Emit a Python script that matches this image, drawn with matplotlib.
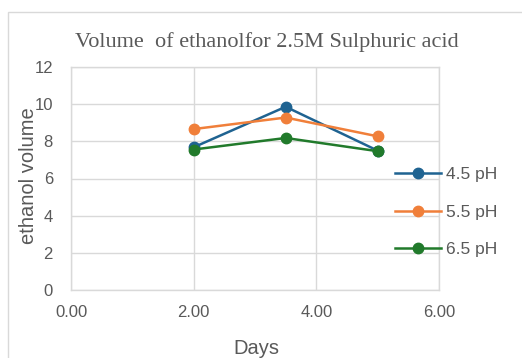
import matplotlib
matplotlib.use("Agg")
import matplotlib.pyplot as plt
from matplotlib.patches import Rectangle

days = [2.0, 3.5, 5.0]
ph45 = [7.68, 9.86, 7.50]
ph55 = [8.66, 9.28, 8.27]
ph65 = [7.56, 8.18, 7.47]
labels = ["4.5 pH", "5.5 pH", "6.5 pH"]
colors = ["#1F6391", "#F07F3A", "#217A2B"]
xticks = [0, 2, 4, 6]
yticks = [0, 2, 4, 6, 8, 10, 12]

W, H = 522, 358
fig = plt.figure(figsize=(W/100, H/100), dpi=100)
fig.patch.set_facecolor("white")
# chart border
fig.patches.append(Rectangle((8/W, -0.1), 1.2, 1 - 12/H + 0.1, transform=fig.transFigure,
                             fill=False, edgecolor="#D9D9D9", linewidth=1.0))

ax = fig.add_axes([71/W, 1 - 290/H, (439-71)/W, (290-67)/H])
for s, c, lab in zip([ph45, ph55, ph65], colors, labels):
    ax.plot(days, s, color=c, linewidth=1.8, marker="o", markersize=7.5, label=lab)

ax.set_xlim(0, 6)
ax.set_ylim(0, 12)
ax.set_xticks(xticks)
ax.set_xticklabels([f"{v:.2f}" for v in xticks])
ax.set_yticks(yticks)
ax.grid(True, color="#D9D9D9", linewidth=1.0)
ax.set_axisbelow(True)
for sp in ax.spines.values():
    sp.set_color("#D9D9D9")
    sp.set_linewidth(1.0)
ax.tick_params(length=0, colors="#595959", labelsize=12)
ax.tick_params(axis="x", pad=11)
ax.tick_params(axis="y", pad=13)
for t in ax.get_xticklabels() + ax.get_yticklabels():
    t.set_fontfamily("Liberation Sans")

ax.set_xlabel("Days", fontsize=14.5, color="#595959", family="Liberation Sans", va="center")
ax.xaxis.set_label_coords((256-71)/368, (290-348)/223)
ax.set_ylabel("ethanol volume", fontsize=14.5, color="#595959", family="Liberation Sans", va="center")
ax.yaxis.set_label_coords((28-71)/368, (290-176)/223)

fig.text(267/W, 1 - 42/H, "Volume  of ethanolfor 2.5M Sulphuric acid", ha="center", va="center",
         fontsize=16, color="#595959", family="Liberation Serif")

leg = ax.legend(loc="center left", bbox_to_anchor=(395/W, 1 - 212/H), bbox_transform=fig.transFigure,
                frameon=False, fontsize=12.5, handlelength=2.64, labelspacing=1.3, handletextpad=0.3,
                borderpad=0, borderaxespad=0)
for t in leg.get_texts():
    t.set_color("#595959")
    t.set_fontfamily("Liberation Sans")

fig.savefig("out.png", dpi=100)
